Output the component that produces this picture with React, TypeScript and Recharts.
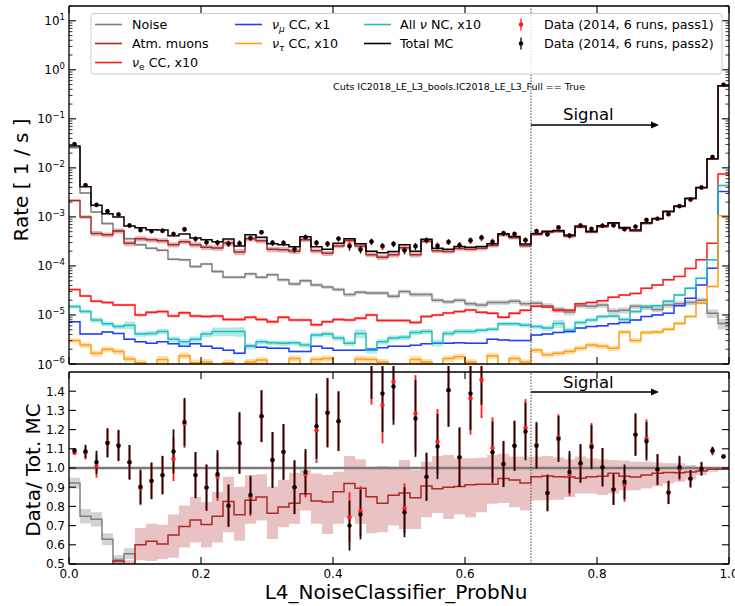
import React from 'react';
import { ComposedChart, Line, Area, Scatter, ErrorBar, XAxis, YAxis, ReferenceLine } from 'recharts';

const NBINS = 60; // bins of width 1/60 on L4_NoiseClassifier_ProbNu

// rates per bin [1/s] (neutrino channels already scaled as in the legend)
const totalMC = [
  2.8e-2, 4.1e-3, 1.72e-3, 1.16e-3, 1.0e-3, 6.5e-4, 6.0e-4, 5.5e-4, 5.4e-4, 4.15e-4,
  4.5e-4, 3.7e-4, 3.4e-4, 3.1e-4, 3.55e-4, 2.55e-4, 4.3e-4, 3.85e-4, 2.85e-4, 2.7e-4,
  2.45e-4, 3.95e-4, 2.45e-4, 2.2e-4, 2.9e-4, 3.6e-4, 2.85e-4, 2.0e-4, 1.85e-4, 1.97e-4,
  2.7e-4, 2.0e-4, 3.5e-4, 2.3e-4, 2.2e-4, 2.5e-4, 2.4e-4, 2.5e-4, 2.85e-4, 4.55e-4,
  4.0e-4, 2.8e-4, 4.6e-4, 5.1e-4, 5.3e-4, 4.25e-4, 6.5e-4, 5.1e-4, 6.6e-4, 7.6e-4,
  6.1e-4, 5.4e-4, 7.6e-4, 9.3e-4, 1.3e-3, 1.66e-3, 2.4e-3, 4.0e-3, 1.53e-2, 0.47,
];
const atmMuons = [
  2.15e-3, 1.0e-3, 4.6e-4, 4.3e-4, 5.15e-4, 2.9e-4, 3.6e-4, 3.4e-4, 3.26e-4, 2.7e-4,
  3.13e-4, 2.7e-4, 2.4e-4, 2.32e-4, 2.93e-4, 1.93e-4, 3.58e-4, 3.27e-4, 2.18e-4, 2.15e-4,
  2.0e-4, 3.42e-4, 2.03e-4, 1.81e-4, 2.54e-4, 3.31e-4, 2.55e-4, 1.7e-4, 1.51e-4, 1.69e-4,
  2.35e-4, 1.69e-4, 3.17e-4, 2.05e-4, 1.98e-4, 2.26e-4, 2.19e-4, 2.29e-4, 2.61e-4, 4.3e-4,
  3.75e-4, 2.58e-4, 4.39e-4, 4.89e-4, 5.06e-4, 4.05e-4, 6.15e-4, 4.87e-4, 6.32e-4, 7.39e-4,
  5.84e-4, 5.15e-4, 7.32e-4, 9.04e-4, 1.27e-3, 1.62e-3, 2.35e-3, 3.94e-3, 1.52e-2, 0.467,
];
const noise = [
  2.58e-2, 3.07e-3, 1.26e-3, 7.3e-4, 5.2e-4, 3.6e-4, 2.7e-4, 2.3e-4, 2.1e-4, 1.37e-4,
  1.33e-4, 9.7e-5, 1.1e-4, 7.7e-5, 5.9e-5, 5.9e-5, 6.9e-5, 5.9e-5, 6.6e-5, 5.2e-5,
  4.3e-5, 5.0e-5, 4.1e-5, 3.7e-5, 3.3e-5, 2.6e-5, 2.9e-5, 2.8e-5, 2.8e-5, 2.4e-5,
  3.0e-5, 2.6e-5, 2.6e-5, 2.0e-5, 1.85e-5, 2.0e-5, 1.7e-5, 1.6e-5, 1.8e-5, 1.8e-5,
  1.9e-5, 1.7e-5, 1.74e-5, 1.55e-5, 1.3e-5, 1.15e-5, 1.55e-5, 1.5e-5, 1.6e-5, 1.2e-5,
  1.25e-5, 1.5e-5, 1.45e-5, 1.3e-5, 1.6e-5, 1.7e-5, 1.8e-5, 2.0e-5, 1.08e-5, 6.7e-6,
];
const nueCC = [
  3.3e-5, 2.45e-5, 1.9e-5, 1.8e-5, 1.6e-5, 1.6e-5, 1.0e-5, 1.13e-5, 1.17e-5, 9.5e-6,
  1.11e-5, 9.5e-6, 9.3e-6, 9.5e-6, 8.1e-6, 8.1e-6, 9.0e-6, 8.1e-6, 7.3e-6, 9.0e-6,
  7.9e-6, 7.9e-6, 6.3e-6, 7.3e-6, 8.1e-6, 7.9e-6, 8.6e-6, 1.0e-5, 7.7e-6, 7.7e-6,
  7.7e-6, 7.0e-6, 9.3e-6, 1.0e-5, 1.1e-5, 1.17e-5, 1.26e-5, 1.13e-5, 1.08e-5, 9.0e-6,
  1.08e-5, 1.25e-5, 1.5e-5, 1.45e-5, 1.25e-5, 1.25e-5, 1.7e-5, 1.8e-5, 1.95e-5, 2.3e-5,
  2.55e-5, 2.75e-5, 3.5e-5, 4.1e-5, 5.2e-5, 6.1e-5, 8.9e-5, 1.33e-4, 2.9e-4, 7.5e-3,
];
const numuCC = [
  7.3e-6, 4.1e-6, 4.1e-6, 4.5e-6, 4.2e-6, 3.2e-6, 2.85e-6, 2.65e-6, 2.85e-6, 2.6e-6,
  2.3e-6, 2.6e-6, 2.3e-6, 2.1e-6, 1.9e-6, 1.65e-6, 2.3e-6, 2.2e-6, 2.1e-6, 2.1e-6,
  1.8e-6, 1.8e-6, 2.3e-6, 2.1e-6, 1.9e-6, 1.9e-6, 1.9e-6, 2.0e-6, 2.15e-6, 2.3e-6,
  2.3e-6, 2.4e-6, 2.6e-6, 2.65e-6, 2.65e-6, 2.7e-6, 2.65e-6, 2.65e-6, 3.2e-6, 3.1e-6,
  3.0e-6, 3.0e-6, 3.9e-6, 4.1e-6, 4.4e-6, 4.6e-6, 5.4e-6, 5.8e-6, 6.0e-6, 6.6e-6,
  7.0e-6, 7.9e-6, 9.3e-6, 1.0e-5, 1.08e-5, 1.55e-5, 2.2e-5, 4.1e-5, 9.0e-5, 3.3e-3,
];
const nutauCC = [
  3.0e-6, 2.45e-6, 1.65e-6, 2.0e-6, 1.8e-6, 1.27e-6, 1.06e-6, 8e-7, 1.23e-6, 8e-7,
  1.48e-6, 1.06e-6, 1.1e-6, 8e-7, 1.06e-6, 8e-7, 1.1e-6, 1.2e-6, 8e-7, 8e-7,
  1.3e-6, 8e-7, 1.23e-6, 1.3e-6, 8e-7, 8e-7, 1.27e-6, 1.23e-6, 1.1e-6, 8e-7,
  8e-7, 1.23e-6, 1.1e-6, 8e-7, 1.3e-6, 1.4e-6, 1.1e-6, 8e-7, 1.48e-6, 8e-7,
  1.3e-6, 1.1e-6, 1.9e-6, 1.55e-6, 1.65e-6, 1.8e-6, 2.1e-6, 2.45e-6, 2.3e-6, 2.1e-6,
  4.5e-6, 3.0e-6, 4.4e-6, 4.5e-6, 5.1e-6, 6.7e-6, 9.3e-6, 1.74e-5, 3.8e-5, 1.06e-3,
];
const allNC = [
  1.48e-5, 1.17e-5, 7.9e-6, 6.6e-6, 5.8e-6, 6.2e-6, 4.1e-6, 4.2e-6, 4.6e-6, 3.2e-6,
  2.85e-6, 3.2e-6, 4.1e-6, 4.6e-6, 4.6e-6, 4.6e-6, 2.3e-6, 2.85e-6, 2.7e-6, 2.65e-6,
  2.7e-6, 2.45e-6, 3.9e-6, 4.1e-6, 3.4e-6, 2.65e-6, 4.2e-6, 1.9e-6, 2.85e-6, 3.4e-6,
  3.5e-6, 4.4e-6, 4.6e-6, 2.7e-6, 4.2e-6, 4.6e-6, 4.6e-6, 4.9e-6, 5.1e-6, 6.6e-6,
  6.6e-6, 6.2e-6, 5.8e-6, 5.4e-6, 6.7e-6, 4.9e-6, 7.0e-6, 7.9e-6, 9.3e-6, 9.5e-6,
  8.1e-6, 1.17e-5, 1.48e-5, 1.55e-5, 1.9e-5, 2.55e-5, 3.5e-5, 5.6e-5, 1.33e-4, 4.37e-3,
];

// relative half-widths of the MC uncertainty bands
const muonUnc = [
  0.05, 0.08, 0.12, 0.12, 0.12, 0.13, 0.12, 0.12, 0.12, 0.12,
  0.12, 0.12, 0.12, 0.12, 0.14, 0.14, 0.12, 0.12, 0.13, 0.13,
  0.12, 0.1, 0.12, 0.12, 0.1, 0.1, 0.1, 0.12, 0.12, 0.12,
  0.1, 0.12, 0.09, 0.1, 0.1, 0.1, 0.1, 0.1, 0.09, 0.08,
  0.08, 0.09, 0.07, 0.07, 0.07, 0.07, 0.06, 0.06, 0.06, 0.06,
  0.06, 0.06, 0.05, 0.05, 0.05, 0.04, 0.04, 0.04, 0.03, 0.02,
];
const noiseUnc = [
  0.03, 0.05, 0.05, 0.05, 0.05, 0.05, 0.06, 0.06, 0.06, 0.06,
  0.06, 0.07, 0.06, 0.07, 0.07, 0.07, 0.07, 0.07, 0.07, 0.08,
  0.08, 0.08, 0.08, 0.08, 0.09, 0.09, 0.09, 0.09, 0.09, 0.1,
  0.09, 0.1, 0.1, 0.1, 0.1, 0.1, 0.11, 0.11, 0.11, 0.11,
  0.11, 0.12, 0.12, 0.12, 0.13, 0.14, 0.12, 0.12, 0.12, 0.14,
  0.14, 0.12, 0.13, 0.13, 0.12, 0.12, 0.12, 0.12, 0.2, 0.25,
];
const nueUnc = [
  0.05, 0.05, 0.06, 0.06, 0.06, 0.06, 0.07, 0.07, 0.07, 0.07,
  0.07, 0.07, 0.07, 0.07, 0.07, 0.07, 0.07, 0.07, 0.08, 0.07,
  0.07, 0.07, 0.08, 0.07, 0.07, 0.07, 0.07, 0.07, 0.07, 0.07,
  0.07, 0.07, 0.06, 0.06, 0.06, 0.06, 0.06, 0.06, 0.06, 0.07,
  0.06, 0.06, 0.05, 0.06, 0.1, 0.07, 0.05, 0.05, 0.05, 0.05,
  0.04, 0.04, 0.04, 0.04, 0.04, 0.03, 0.03, 0.03, 0.03, 0.02,
];
const numuUnc = [
  0.03, 0.03, 0.03, 0.03, 0.03, 0.03, 0.03, 0.03, 0.03, 0.03,
  0.03, 0.03, 0.03, 0.03, 0.03, 0.04, 0.03, 0.03, 0.03, 0.03,
  0.03, 0.03, 0.03, 0.03, 0.03, 0.03, 0.03, 0.03, 0.03, 0.03,
  0.03, 0.03, 0.03, 0.03, 0.03, 0.03, 0.03, 0.03, 0.03, 0.03,
  0.03, 0.03, 0.03, 0.03, 0.03, 0.03, 0.03, 0.03, 0.03, 0.03,
  0.03, 0.03, 0.03, 0.03, 0.03, 0.02, 0.02, 0.02, 0.02, 0.02,
];
const ncUnc = [
  0.08, 0.1, 0.12, 0.12, 0.12, 0.18, 0.12, 0.12, 0.12, 0.14,
  0.14, 0.14, 0.14, 0.2, 0.2, 0.22, 0.14, 0.12, 0.12, 0.12,
  0.12, 0.12, 0.12, 0.12, 0.12, 0.12, 0.2, 0.14, 0.12, 0.12,
  0.12, 0.12, 0.12, 0.16, 0.12, 0.12, 0.12, 0.1, 0.1, 0.1,
  0.1, 0.1, 0.1, 0.12, 0.18, 0.12, 0.1, 0.1, 0.09, 0.09,
  0.09, 0.08, 0.08, 0.07, 0.07, 0.06, 0.06, 0.05, 0.04, 0.03,
];
const nutauUnc = [
  0.1, 0.12, 0.14, 0.14, 0.14, 0.14, 0.15, 0.15, 0.18, 0.15,
  0.15, 0.15, 0.15, 0.15, 0.15, 0.15, 0.15, 0.15, 0.15, 0.15,
  0.15, 0.15, 0.15, 0.15, 0.15, 0.15, 0.15, 0.15, 0.15, 0.15,
  0.15, 0.18, 0.15, 0.15, 0.15, 0.15, 0.15, 0.15, 0.15, 0.15,
  0.15, 0.12, 0.12, 0.12, 0.12, 0.12, 0.12, 0.12, 0.12, 0.12,
  0.1, 0.12, 0.1, 0.1, 0.08, 0.08, 0.07, 0.06, 0.05, 0.03,
];

// data / total MC
const ratioPass1 = [
  1.08, 1.08, 1.01, 1.133, 1.12, 1.03, 0.896, 0.933, 0.963, 1.047,
  1.23, 0.963, 0.898, 0.954, 0.804, 1.13, 0.85, 1.27, 1.042, 1.084,
  0.9, 0.967, 1.196, 1.288, 1.244, 0.744, 0.775, 1.55, 1.328, 1.45,
  0.79, 1.284, 0.954, 1.137, 1.405, 1.056, 1.363, 1.46, 1.104, 1.021,
  1.116, 1.209, 1.121, 0.87, 1.16, 0.963, 1.021, 1.12, 1.004, 0.888,
  0.914, 1.174, 1.153, 0.99, 0.875, 0.995, 0.944, 0.998, 1.086, 1.06,
];
const ratioPass2 = [
  1.091, 1.086, 1.03, 1.13, 1.116, 1.03, 0.902, 0.933, 0.963, 1.086,
  1.24, 0.963, 0.898, 0.968, 0.804, 1.13, 0.86, 1.27, 1.042, 1.084,
  0.9, 0.979, 1.218, 1.288, 1.244, 0.7, 0.758, 1.58, 1.388, 1.425,
  0.77, 1.258, 0.954, 1.112, 1.405, 1.056, 1.388, 1.53, 1.082, 1.021,
  1.116, 1.19, 1.116, 0.87, 1.151, 0.979, 1.025, 1.109, 1.004, 0.888,
  0.928, 1.174, 1.139, 0.993, 0.872, 1.004, 0.944, 0.995, 1.091, 1.06,
];
const ratioErr = [
  0.012, 0.035, 0.06, 0.075, 0.08, 0.09, 0.09, 0.095, 0.1, 0.115,
  0.125, 0.12, 0.12, 0.125, 0.11, 0.16, 0.1, 0.135, 0.145, 0.145,
  0.14, 0.12, 0.17, 0.18, 0.155, 0.13, 0.13, 0.22, 0.2, 0.2,
  0.13, 0.2, 0.125, 0.17, 0.19, 0.155, 0.19, 0.2, 0.16, 0.12,
  0.13, 0.15, 0.12, 0.095, 0.12, 0.11, 0.1, 0.115, 0.1, 0.08,
  0.09, 0.11, 0.1, 0.08, 0.06, 0.06, 0.045, 0.035, 0.02, 0.006,
];
// atm. muon band in the ratio panel
const muonRatioLo = [
  0.06, 0.2, 0.22, 0.3, 0.44, 0.38, 0.519, 0.516, 0.525, 0.533,
  0.586, 0.612, 0.586, 0.612, 0.665, 0.621, 0.709, 0.726, 0.63, 0.691,
  0.709, 0.779, 0.709, 0.656, 0.709, 0.744, 0.709, 0.66, 0.665, 0.7,
  0.682, 0.682, 0.744, 0.765, 0.735, 0.758, 0.744, 0.77, 0.814, 0.818,
  0.796, 0.779, 0.832, 0.832, 0.835, 0.849, 0.867, 0.867, 0.86, 0.867,
  0.884, 0.884, 0.893, 0.905, 0.919, 0.928, 0.94, 0.963, 0.981, 0.99,
];
const muonRatioHi = [
  0.1, 0.29, 0.33, 0.45, 0.53, 0.52, 0.688, 0.709, 0.705, 0.758,
  0.805, 0.849, 0.823, 0.875, 0.954, 0.902, 0.963, 0.968, 0.902, 0.937,
  0.975, 0.99, 0.972, 0.963, 0.98, 1.063, 1.046, 1.0, 1.01, 1.007,
  1.042, 0.99, 1.033, 1.063, 1.068, 1.051, 1.051, 1.054, 1.068, 1.074,
  1.06, 1.06, 1.06, 1.063, 1.056, 1.046, 1.06, 1.051, 1.046, 1.042,
  1.039, 1.033, 1.033, 1.028, 1.025, 1.025, 1.016, 1.007, 1.004, 1.0,
];

const xTicks = [0, 0.2, 0.4, 0.6, 0.8, 1.0];
const decades = [-6, -5, -4, -3, -2, -1, 0, 1];
const mantissas = [1, 2, 3, 4, 5, 6, 7, 8, 9];
const ratioTicks = [0.5, 0.6, 0.7, 0.8, 0.9, 1.0, 1.1, 1.2, 1.3, 1.4];
const logTicks = decades.flatMap((d) => mantissas.map((m) => m * Math.pow(10, d))).filter((v) => v <= 20);

const C = {
  noise: '#808080',
  muon: '#b02828',
  nue: '#ff1a1a',
  numu: '#1f3cff',
  nutau: '#ffa010',
  nc: '#1fbfbf',
  total: '#000000',
};

const band = (v: number, f: number) => [v * (1 - f), v * (1 + f)];

const histRows = Array.from({ length: NBINS + 1 }, (_, i) => {
  const j = Math.min(i, NBINS - 1);
  return {
    x: i / NBINS,
    total: totalMC[j],
    muon: atmMuons[j], muonBand: band(atmMuons[j], muonUnc[j]),
    noise: noise[j], noiseBand: band(noise[j], noiseUnc[j]),
    nue: nueCC[j], nueBand: band(nueCC[j], nueUnc[j]),
    numu: numuCC[j], numuBand: band(numuCC[j], numuUnc[j]),
    nutau: nutauCC[j], nutauBand: band(nutauCC[j], nutauUnc[j]),
    nc: allNC[j], ncBand: band(allNC[j], ncUnc[j]),
  };
});

const pointRows = totalMC.map((mc, i) => ({
  x: (i + 0.5) / NBINS,
  d1: mc * ratioPass1[i],
  d2: mc * ratioPass2[i],
  e: mc * ratioErr[i],
}));

const ratioRows = Array.from({ length: NBINS + 1 }, (_, i) => {
  const j = Math.min(i, NBINS - 1);
  const nr = noise[j] / totalMC[j];
  return {
    x: i / NBINS,
    noiseR: nr,
    noiseRBand: band(nr, noiseUnc[j]),
    muonR: atmMuons[j] / totalMC[j],
    muonRBand: [muonRatioLo[j], muonRatioHi[j]],
  };
});

const ratioPoints = ratioPass2.map((r, i) => ({
  x: (i + 0.5) / NBINS,
  r1: ratioPass1[i],
  r2: r,
  e: ratioErr[i],
}));

const axisLine = { stroke: '#000', strokeWidth: 1.3 };

function LogTick({ x, y, payload, side }: any) {
  const lg = Math.log10(payload.value);
  const e = Math.round(lg);
  const major = Math.abs(lg - e) < 1e-6;
  const len = major ? 7 : 3.5;
  const dx = side === 'left' ? len : -len;
  return (
    <g>
      <line x1={x} y1={y} x2={x + dx} y2={y} stroke="#000" strokeWidth={major ? 1.1 : 0.8} />
      {side === 'left' && major && (
        <text x={x - 4} y={y + 4.5} textAnchor="end" fontSize={12} fill="#000">
          10<tspan dy={-5.5} fontSize={8.5}>{e < 0 ? `\u2212${-e}` : `${e}`}</tspan>
        </text>
      )}
    </g>
  );
}

function LinTick({ x, y, payload, side }: any) {
  const dx = side === 'left' ? 7 : -7;
  return (
    <g>
      <line x1={x} y1={y} x2={x + dx} y2={y} stroke="#000" strokeWidth={1.1} />
      {side === 'left' && (
        <text x={x - 4} y={y + 4.3} textAnchor="end" fontSize={12} fill="#000">
          {payload.value.toFixed(1)}
        </text>
      )}
    </g>
  );
}

function XTick({ x, y, payload, side, withText }: any) {
  const dy = side === 'bottom' ? -7 : 7;
  return (
    <g>
      <line x1={x} y1={y} x2={x} y2={y + dy} stroke="#000" strokeWidth={1.1} />
      {withText && (
        <text x={x} y={y + 14} textAnchor="middle" fontSize={12} fill="#000">
          {payload.value.toFixed(1)}
        </text>
      )}
    </g>
  );
}

const dot = (color: string, r: number) => (p: any) => <circle cx={p.cx} cy={p.cy} r={r} fill={color} />;

// axes are 1px thick so that Recharts still draws them; ticks point inwards like matplotlib
function Axes({ logY, withXText }: any) {
  const yProps = logY
    ? { scale: 'log' as const, domain: [1e-6, 20], ticks: logTicks }
    : { domain: [0.5, 1.5], ticks: ratioTicks };
  const YT = logY ? LogTick : LinTick;
  return [
    <XAxis key="xb" xAxisId="b" dataKey="x" type="number" domain={[0, 1]} allowDataOverflow ticks={xTicks} interval={0}
      height={1} tickSize={0} tickMargin={0} tickLine={false} axisLine={axisLine}
      tick={(p: any) => <XTick {...p} side="bottom" withText={withXText} />} />,
    <XAxis key="xt" xAxisId="t" orientation="top" dataKey="x" type="number" domain={[0, 1]} allowDataOverflow ticks={xTicks} interval={0}
      height={1} tickSize={0} tickMargin={0} tickLine={false} axisLine={axisLine}
      tick={(p: any) => <XTick {...p} side="top" />} />,
    <YAxis key="yl" yAxisId="l" type="number" allowDataOverflow interval={0} {...yProps}
      width={69} tickSize={0} tickMargin={0} tickLine={false} axisLine={axisLine}
      tick={(p: any) => <YT {...p} side="left" />} />,
    <YAxis key="yr" yAxisId="r" orientation="right" type="number" allowDataOverflow interval={0} {...yProps}
      width={1} tickSize={0} tickMargin={0} tickLine={false} axisLine={axisLine}
      tick={(p: any) => <YT {...p} side="right" />} />,
  ];
}

function TopPanel() {
  const series = [
    { k: 'noise', c: C.noise },
    { k: 'muon', c: C.muon },
    { k: 'nue', c: C.nue },
    { k: 'numu', c: C.numu },
    { k: 'nc', c: C.nc },
    { k: 'nutau', c: C.nutau },
  ];
  return (
    <ComposedChart width={735} height={370} data={histRows} margin={{ top: 5, right: 5, bottom: 5, left: 0 }}>
      {Axes({ logY: true, withXText: false })}
      {series.map((s) => (
        <Area key={s.k + 'b'} xAxisId="b" yAxisId="l" dataKey={s.k + 'Band'} type="stepAfter" stroke="none"
          fill={s.c} fillOpacity={0.35} isAnimationActive={false} activeDot={false} />
      ))}
      {series.map((s) => (
        <Line key={s.k} xAxisId="b" yAxisId="l" dataKey={s.k} type="stepAfter" stroke={s.c} strokeWidth={1.5}
          dot={false} activeDot={false} isAnimationActive={false} />
      ))}
      <Line xAxisId="b" yAxisId="l" dataKey="total" type="stepAfter" stroke={C.total} strokeWidth={1.5}
        dot={false} activeDot={false} isAnimationActive={false} />
      <ReferenceLine xAxisId="b" yAxisId="l" x={0.7} stroke="#444" strokeWidth={1} strokeDasharray="1.5 1.5" />
      <Scatter xAxisId="b" yAxisId="l" data={pointRows} dataKey="d1" shape={dot('#ff1a1a', 2.2)} isAnimationActive={false}>
        <ErrorBar dataKey="e" direction="y" width={0} stroke="#ff1a1a" strokeWidth={1.3} />
      </Scatter>
      <Scatter xAxisId="b" yAxisId="l" data={pointRows} dataKey="d2" shape={dot('#000', 2.2)} isAnimationActive={false}>
        <ErrorBar dataKey="e" direction="y" width={0} stroke="#000" strokeWidth={1.3} />
      </Scatter>
    </ComposedChart>
  );
}

function RatioPanel() {
  return (
    <ComposedChart width={735} height={240} data={ratioRows} margin={{ top: 5, right: 5, bottom: 41, left: 0 }}>
      {Axes({ logY: false, withXText: true })}
      <ReferenceLine xAxisId="b" yAxisId="l" y={1} stroke="#7a7a7a" strokeWidth={2.5} />
      <Area xAxisId="b" yAxisId="l" dataKey="noiseRBand" type="stepAfter" stroke="none" fill={C.noise}
        fillOpacity={0.35} isAnimationActive={false} activeDot={false} />
      <Line xAxisId="b" yAxisId="l" dataKey="noiseR" type="stepAfter" stroke={C.noise} strokeWidth={1.5}
        dot={false} activeDot={false} isAnimationActive={false} />
      <Area xAxisId="b" yAxisId="l" dataKey="muonRBand" type="stepAfter" stroke="none" fill={C.muon}
        fillOpacity={0.28} isAnimationActive={false} activeDot={false} />
      <Line xAxisId="b" yAxisId="l" dataKey="muonR" type="stepAfter" stroke={C.muon} strokeWidth={1.5}
        dot={false} activeDot={false} isAnimationActive={false} />
      <ReferenceLine xAxisId="b" yAxisId="l" x={0.7} stroke="#444" strokeWidth={1} strokeDasharray="1.5 1.5" />
      <Scatter xAxisId="b" yAxisId="l" data={ratioPoints} dataKey="r1" shape={dot('#ff1a1a', 2.2)} isAnimationActive={false}>
        <ErrorBar dataKey="e" direction="y" width={0} stroke="#ff1a1a" strokeWidth={1.8} />
      </Scatter>
      <Scatter xAxisId="b" yAxisId="l" data={ratioPoints} dataKey="r2" shape={dot('#000', 2.2)} isAnimationActive={false}>
        <ErrorBar dataKey="e" direction="y" width={0} stroke="#1a0a0a" strokeWidth={1.8} />
      </Scatter>
    </ComposedChart>
  );
}

function LegendLine({ x, y, color }: any) {
  return <line x1={x} x2={x + 27} y1={y} y2={y} stroke={color} strokeWidth={1.6} />;
}

function DataMark({ x, y, color }: any) {
  return (
    <g>
      <line x1={x} x2={x} y1={y - 6} y2={y + 6} stroke={color} strokeWidth={1.3} />
      <circle cx={x} cy={y} r={2.2} fill={color} />
    </g>
  );
}

function Overlay() {
  const fs = 12.7;
  const rowY = [24.5, 43.5, 62.5];
  const base = (r: number) => rowY[r] + 4.4;
  return (
    <svg width={735} height={606} style={{ position: 'absolute', left: 0, top: 0, pointerEvents: 'none' }}>
      <rect x={91} y={13.5} width={631} height={60.5} rx={3} fill="#fff" fillOpacity={0.8} stroke="#cccccc" />
      <LegendLine x={95} y={rowY[0]} color={C.noise} />
      <text x={132} y={base(0)} fontSize={fs}>Noise</text>
      <LegendLine x={95} y={rowY[1]} color={C.muon} />
      <text x={132} y={base(1)} fontSize={fs}>Atm. muons</text>
      <LegendLine x={95} y={rowY[2]} color={C.nue} />
      <text x={132} y={base(2)} fontSize={fs}>
        <tspan fontStyle="italic">ν</tspan><tspan dy={3} fontSize={9}>e</tspan><tspan dy={-3}> CC, x10</tspan>
      </text>
      <LegendLine x={235} y={rowY[0]} color={C.numu} />
      <text x={272} y={base(0)} fontSize={fs}>
        <tspan fontStyle="italic">ν</tspan><tspan dy={3} fontSize={9} fontStyle="italic">μ</tspan><tspan dy={-3}> CC, x1</tspan>
      </text>
      <LegendLine x={235} y={rowY[1]} color={C.nutau} />
      <text x={272} y={base(1)} fontSize={fs}>
        <tspan fontStyle="italic">ν</tspan><tspan dy={3} fontSize={9} fontStyle="italic">τ</tspan><tspan dy={-3}> CC, x10</tspan>
      </text>
      <LegendLine x={364} y={rowY[0]} color={C.nc} />
      <text x={400} y={base(0)} fontSize={fs}>
        All <tspan fontStyle="italic">ν</tspan> NC, x10
      </text>
      <LegendLine x={364} y={rowY[1]} color={C.total} />
      <text x={400} y={base(1)} fontSize={fs}>Total MC</text>
      <DataMark x={521} y={rowY[0]} color="#ff1a1a" />
      <text x={544} y={base(0)} fontSize={fs}>Data (2014, 6 runs, pass1)</text>
      <DataMark x={521} y={rowY[1]} color="#000" />
      <text x={544} y={base(1)} fontSize={fs}>Data (2014, 6 runs, pass2)</text>

      <text x={333} y={89.5} fontSize={9.5}>Cuts IC2018_LE_L3_bools.IC2018_LE_L3_Full == True</text>

      <text x={563} y={120} fontSize={16.5}>Signal</text>
      <line x1={531} x2={652} y1={125} y2={125} stroke="#000" strokeWidth={1.5} />
      <polygon points="651,121.5 659,125 651,128.5" fill="#000" />
      <text x={563} y={388} fontSize={16.5}>Signal</text>
      <line x1={531} x2={652} y1={392} y2={392} stroke="#000" strokeWidth={1.5} />
      <polygon points="651,388.5 659,392 651,395.5" fill="#000" />

      <text transform="translate(28,180) rotate(-90)" textAnchor="middle" fontSize={20}>Rate [ 1 / s ]</text>
      <text transform="translate(40,470) rotate(-90)" textAnchor="middle" fontSize={20}>Data/ Tot. MC</text>
      <text x={396} y={599} textAnchor="middle" fontSize={20}>L4_NoiseClassifier_ProbNu</text>
    </svg>
  );
}

export default function App() {
  return (
    <div style={{ position: 'absolute', left: 0, top: 0, width: 735, height: 606, background: '#fff', fontFamily: '"DejaVu Sans", sans-serif' }}>
      <div style={{ position: 'absolute', left: 0, top: 0 }}>
        <TopPanel />
      </div>
      <div style={{ position: 'absolute', left: 0, top: 366 }}>
        <RatioPanel />
      </div>
      <Overlay />
    </div>
  );
}
